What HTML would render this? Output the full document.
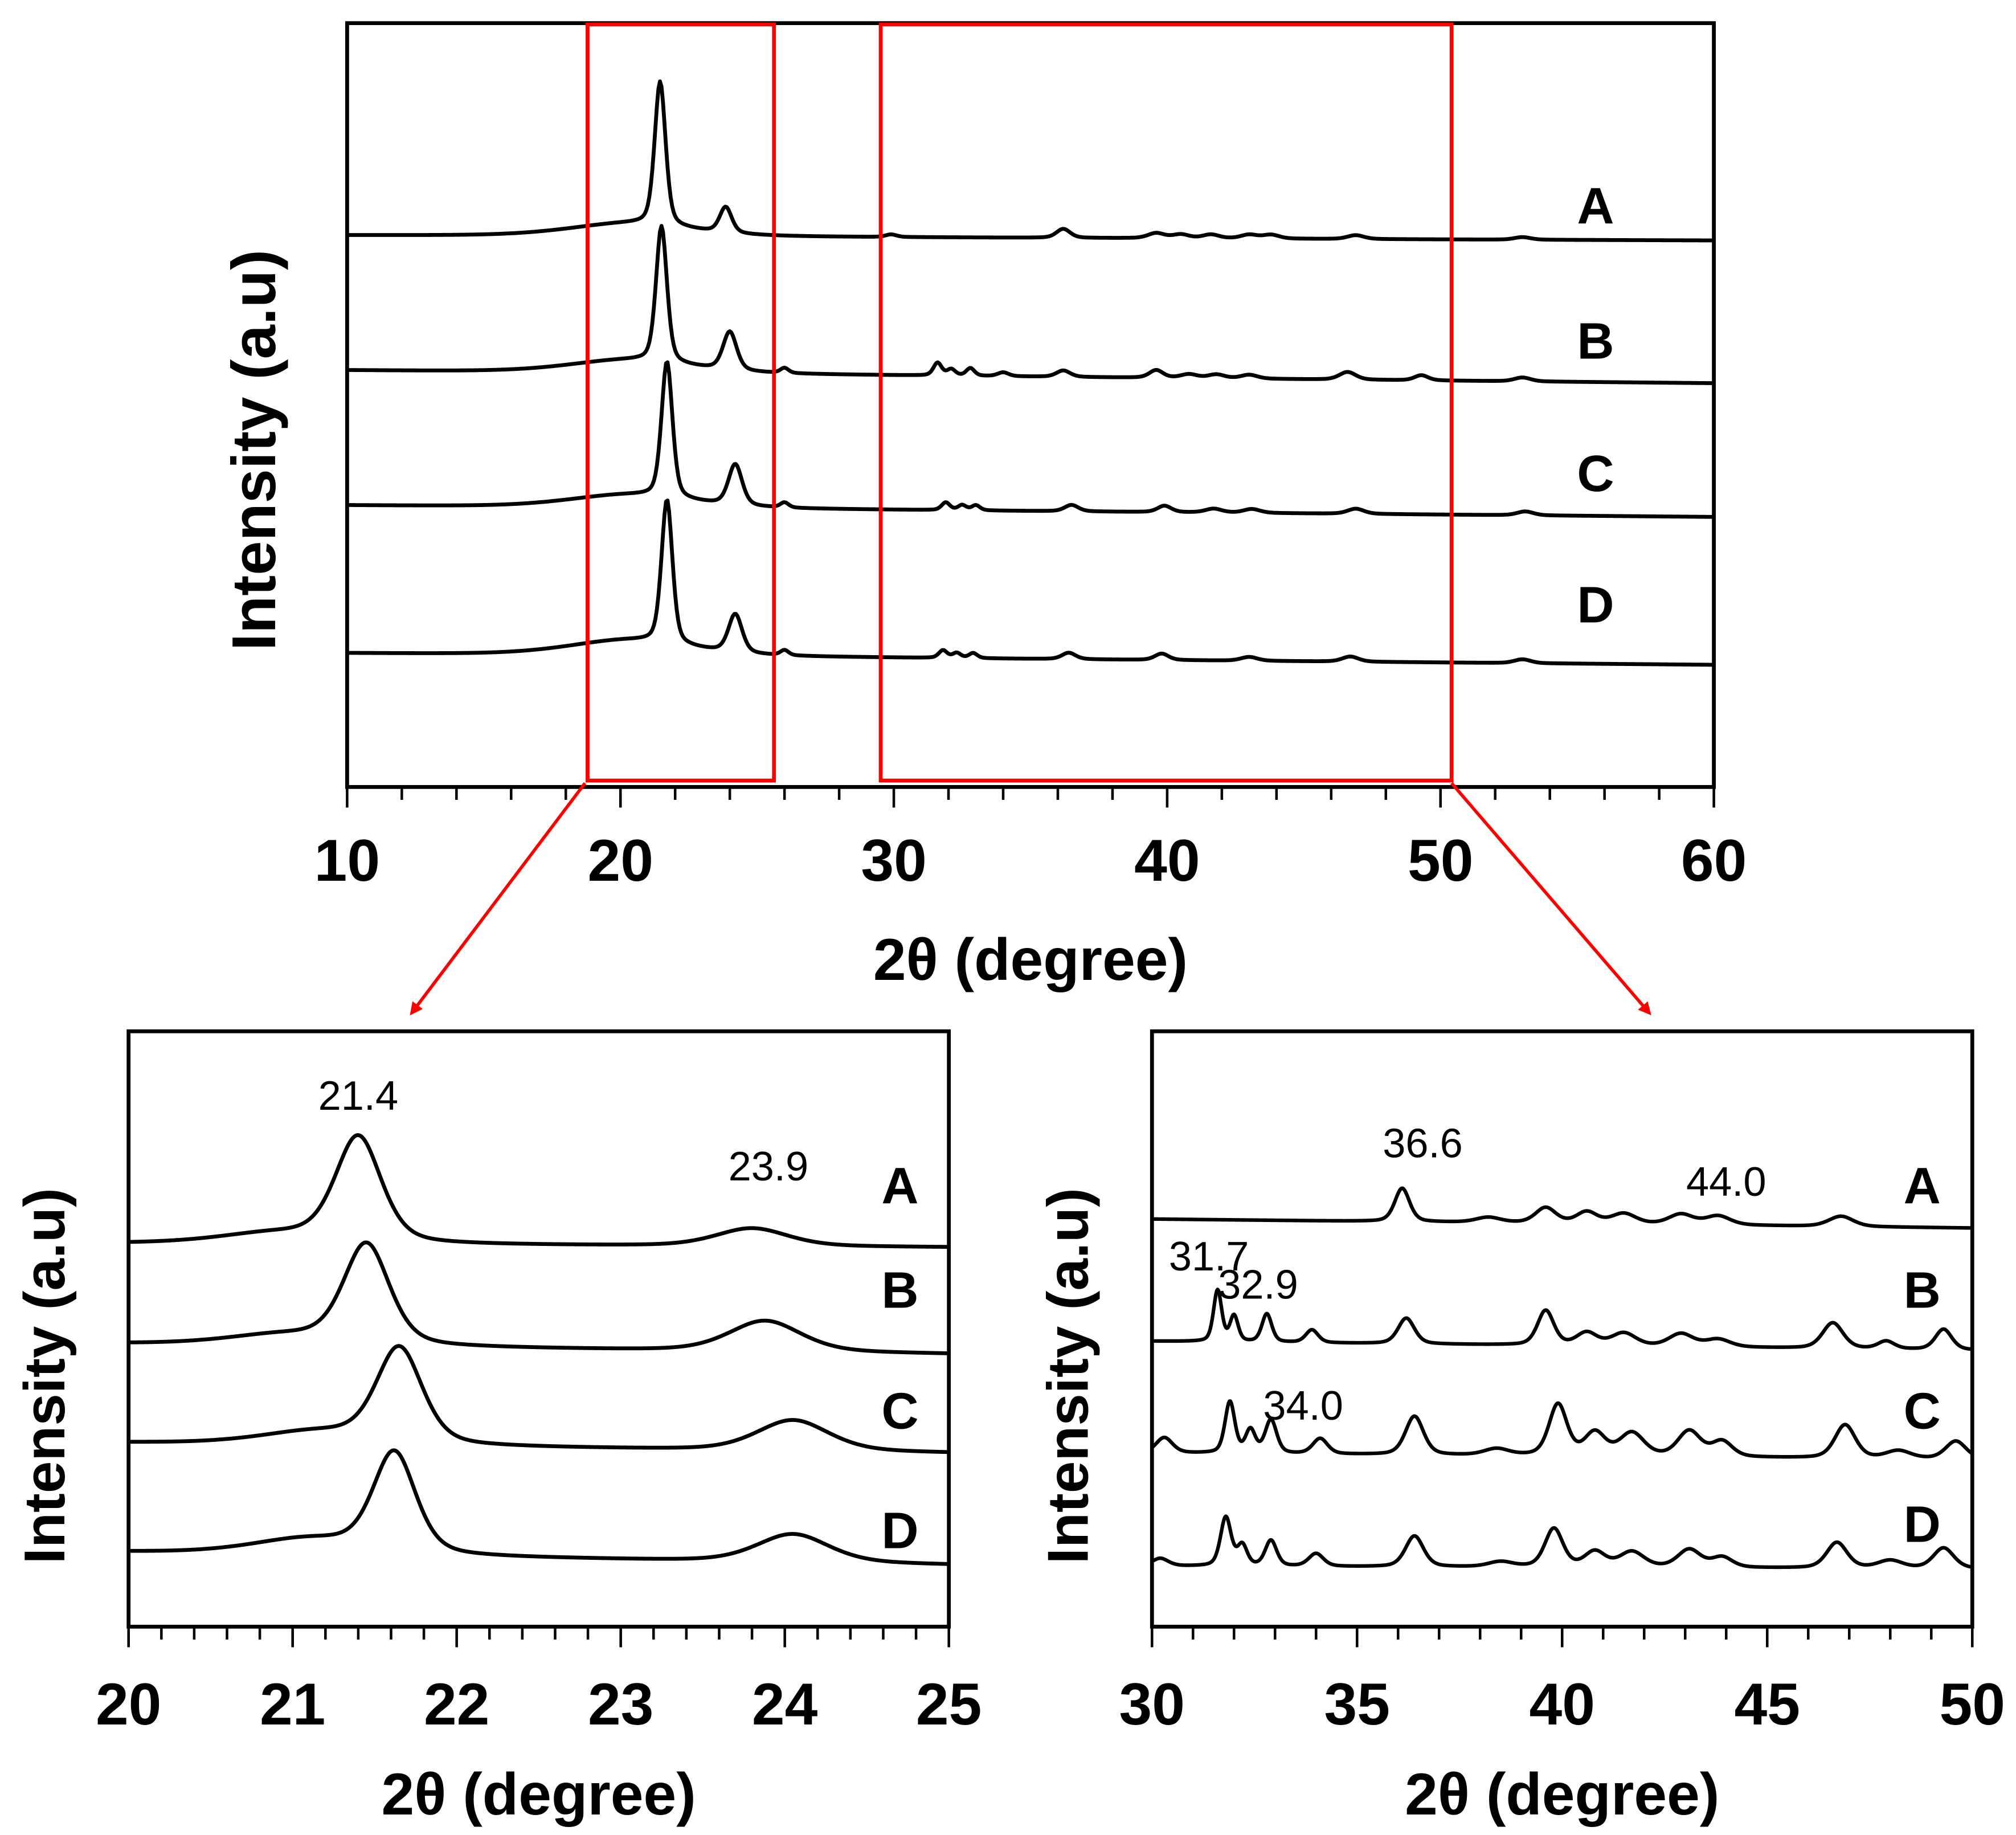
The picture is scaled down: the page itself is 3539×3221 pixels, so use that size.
<!DOCTYPE html>
<html><head><meta charset="utf-8"><style>
html,body{margin:0;padding:0;background:#fff;}
svg{display:block;}
.tk{font-family:"Liberation Sans Narrow","Liberation Sans",sans-serif;font-weight:bold;font-size:46px;text-anchor:middle;}
.ttl{font-family:"Liberation Sans Narrow","Liberation Sans",sans-serif;font-weight:bold;font-size:46px;text-anchor:middle;}
.yt{font-family:"Liberation Sans",sans-serif;font-weight:bold;text-anchor:middle;}
.lab{font-family:"Liberation Sans Narrow","Liberation Sans",sans-serif;font-weight:bold;font-size:40px;text-anchor:middle;}
.ann{font-family:"Liberation Sans Narrow","Liberation Sans",sans-serif;font-size:32px;text-anchor:middle;}
</style></head><body>
<svg id="fig" xmlns="http://www.w3.org/2000/svg" width="3539" height="3221" viewBox="0 0 1568 1427" preserveAspectRatio="none">
<defs><marker id="ah" markerWidth="10" markerHeight="10" refX="8" refY="5" orient="auto" markerUnits="userSpaceOnUse"><path d="M0,0 L10,5 L0,10 z" fill="#f00"/></marker></defs>
<g id="top"></g>
<g id="bl"></g>
<g id="br"></g>
<g>
<rect x="457" y="19" width="145" height="588" fill="none" stroke="#f00" stroke-width="3"/>
<rect x="685" y="19" width="444" height="588" fill="none" stroke="#f00" stroke-width="3"/>
<line x1="455" y1="609" x2="320" y2="788" stroke="#f00" stroke-width="2.5" marker-end="url(#ah)"/>
<line x1="1129" y1="609" x2="1283" y2="788" stroke="#f00" stroke-width="2.5" marker-end="url(#ah)"/>
</g>
</svg>
<script>
const seriesNames = ["A","B","C","D"];
const topTicks = [10,20,30,40,50,60];
const topOffsetStart = [429,324,219,104];
const topOffsetEnd = [425,314,210,95];
const topPeaks = [
 [[20.3,10,2.2],[21.45,112,0.2],[23.85,20,0.22],[29.9,2,0.2],[36.2,7,0.25],[39.6,4,0.3],[40.5,3,0.3],[41.6,3,0.3],[43,3,0.3],[43.8,3,0.3],[46.9,3,0.3],[53,2,0.3]],
 [[20.3,10,2.2],[21.5,106,0.2],[24.0,30,0.25],[26,4,0.15],[31.6,10,0.15],[32.1,5,0.15],[32.8,6,0.15],[34,3,0.2],[36.2,5,0.25],[39.6,6,0.25],[40.8,3,0.3],[41.8,3,0.3],[43,3,0.3],[46.6,6,0.3],[49.3,4,0.25],[53,3,0.3]],
 [[20.3,10,2.2],[21.7,106,0.2],[24.2,32,0.25],[26,4,0.15],[31.9,6,0.15],[32.5,4,0.15],[33,4,0.15],[36.5,5,0.25],[39.9,5,0.25],[41.7,3,0.3],[43.1,3,0.3],[46.9,4,0.3],[53.1,3,0.3]],
 [[20.3,12,2.2],[21.7,112,0.2],[24.2,30,0.25],[26,4,0.15],[31.8,6,0.15],[32.3,4,0.15],[32.9,4,0.15],[36.4,5,0.25],[39.8,5,0.25],[43,3,0.3],[46.7,4,0.3],[53,3,0.3]]
];
const blTicks = [20,21,22,23,24,25];
const blOffsetStart = [298,220,143,58];
const blOffsetEnd = [295,212,135,48];
const blPeaks = [
 [[20.9,8,0.35],[21.4,82,0.14],[23.8,14,0.22]],
 [[20.95,8,0.35],[21.45,78,0.14],[23.88,24,0.22]],
 [[21.15,10,0.35],[21.65,74,0.14],[24.05,24,0.22]],
 [[21.1,12,0.35],[21.62,78,0.13],[24.05,22,0.22]]
];
const blAnnText = ["21.4","23.9"];
const blAnnX = [21.4,23.9];
const brTicks = [30,35,40,45,50];
const brOffsetStart = [317,222,135,47];
const brOffsetEnd = [310,215,130,45];
const brPeaks = [
 [[36.1,26,0.18],[38.2,4,0.3],[39.6,12,0.25],[40.6,9,0.25],[41.5,8,0.3],[42.9,8,0.3],[43.8,7,0.3],[46.8,8,0.3]],
 [[31.6,40,0.1],[32.0,20,0.1],[32.8,22,0.12],[33.9,10,0.15],[36.2,20,0.2],[39.6,27,0.2],[40.6,10,0.25],[41.5,10,0.3],[42.9,10,0.3],[43.8,6,0.3],[46.6,20,0.25],[47.9,6,0.2],[49.3,16,0.2]],
 [[30.3,12,0.2],[31.9,40,0.12],[32.4,18,0.12],[32.9,26,0.14],[34.1,12,0.18],[36.4,30,0.22],[38.4,5,0.3],[39.9,40,0.22],[40.8,18,0.25],[41.7,18,0.3],[43.1,20,0.28],[43.9,12,0.25],[46.9,26,0.25],[48.2,6,0.3],[49.6,14,0.25]],
 [[30.2,6,0.2],[31.8,38,0.13],[32.2,16,0.12],[32.9,20,0.14],[34.0,10,0.18],[36.4,24,0.22],[38.5,4,0.3],[39.8,30,0.22],[40.8,12,0.25],[41.7,12,0.3],[43.1,14,0.28],[43.9,8,0.25],[46.7,20,0.25],[48,6,0.3],[49.3,16,0.25]]
];
const brAnnText = ["36.6","44.0","31.7","32.9","34.0"];
const brAnnX = [36.6,44.0,31.7,32.9,34.0];

const NS="http://www.w3.org/2000/svg";
function mk(parent,tag,attrs,text){const e=document.createElementNS(NS,tag);for(const k in attrs)e.setAttribute(k,attrs[k]);if(text!==undefined)e.textContent=text;parent.appendChild(e);return e;}
function lin(d0,d1,r0,r1){return v=>r0+(v-d0)*(r1-r0)/(d1-d0);}
function profile(x,peaks){let s=0;for(const p of peaks){const z=(x-p[0])/p[2];s+=p[1]*(0.6*Math.exp(-0.5*z*z)+0.4/(1+z*z/1.4));}return s;}

function panel(g,cfg){
 const xs=lin(cfg.xd[0],cfg.xd[1],cfg.L,cfg.R);
 const ys=lin(0,cfg.yMax,cfg.B,cfg.T);
 cfg.peaks.forEach((pk,i)=>{
  let d="";const n=900;
  for(let k=0;k<=n;k++){const x=cfg.xd[0]+(cfg.xd[1]-cfg.xd[0])*k/n;
   const off=cfg.o0[i]+(cfg.o1[i]-cfg.o0[i])*k/n;
   const v=off+profile(x,pk);
   d+=(k?"L":"M")+xs(x).toFixed(2)+","+ys(v).toFixed(2);}
  const p=mk(g,"path",{d:d,fill:"none",stroke:"#000","stroke-width":cfg.sw,"stroke-linejoin":"round"});
  
  
  const t=mk(g,"text",{class:"lab",x:cfg.labX,y:cfg.labY[i]+14},seriesNames[i]);
  
  
 });
 const fr=mk(g,"rect",{x:cfg.L,y:cfg.T,width:cfg.R-cfg.L,height:cfg.B-cfg.T,fill:"none",stroke:"#000","stroke-width":3});
 
 
 for(let v=cfg.xd[0];v<=cfg.xd[1]+1e-9;v+=cfg.minor){const major=cfg.ticks.some(t=>Math.abs(t-v)<1e-6);
  const tl=mk(g,"line",{x1:xs(v),x2:xs(v),y1:cfg.B,y2:cfg.B+(major?16:10),stroke:"#000","stroke-width":2});
  
  }
 cfg.ticks.forEach(v=>{const t=mk(g,"text",{class:"tk",x:xs(v),y:cfg.B+cfg.tickDy},String(v));
  
  });
 const xt=mk(g,"text",{class:"ttl",x:(cfg.L+cfg.R)/2,y:cfg.B+cfg.titleDy},"2θ (degree)");
 
 
 const yt=mk(g,"text",{class:"yt","font-size":cfg.ytSize,x:0,y:0,transform:"translate("+cfg.ytX+","+cfg.ytY+") rotate(-90)"},"Intensity (a.u)");
 
 
 return {xs,ys};
}
const topPanel=panel(document.getElementById("top"),{xd:[10,60],L:270,R:1333,T:18,B:612,yMax:594,o0:topOffsetStart,o1:topOffsetEnd,peaks:topPeaks,ticks:topTicks,minor:2,labX:1241,labY:[160,265,368,470],tickDy:73,titleDy:150,ytX:214,ytY:350,ytSize:48,sw:3});
const bl=panel(document.getElementById("bl"),{xd:[20,25],L:100,R:738,T:802,B:1265,yMax:463,o0:blOffsetStart,o1:blOffsetEnd,peaks:blPeaks,ticks:blTicks,minor:0.2,labX:700,labY:[922,1003,1097,1190],tickDy:76,titleDy:146,ytX:50,ytY:1070,ytSize:45,sw:3});
const br=panel(document.getElementById("br"),{xd:[30,50],L:896,R:1534,T:802,B:1265,yMax:463,o0:brOffsetStart,o1:brOffsetEnd,peaks:brPeaks,ticks:brTicks,minor:1,labX:1495,labY:[922,1003,1097,1185],tickDy:76,titleDy:146,ytX:846,ytY:1070,ytSize:45,sw:2.8});
const gbl=document.getElementById("bl");
blAnnText.forEach((s,i)=>{const t=mk(gbl,"text",{class:"ann",x:bl.xs(blAnnX[i]),y:i===0?863:918},s);
 
 });
const gbr=document.getElementById("br");
const brAnnY=[900,930,988,1010,1104];
brAnnText.forEach((s,i)=>{const t=mk(gbr,"text",{class:"ann",x:br.xs(brAnnX[i])+(i>=2?-10:0),y:brAnnY[i]},s);
 
 });
</script>
</body></html>
